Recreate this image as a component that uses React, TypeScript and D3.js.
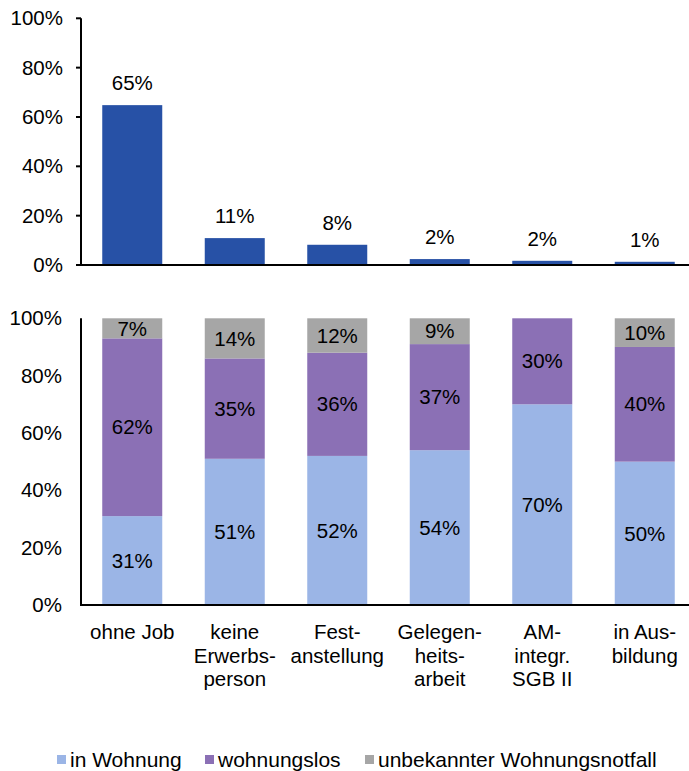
import React, { useRef, useEffect } from 'react';
import * as d3 from 'd3';

// categories (x-axis labels, split into lines)
const categories = ['ohne Job', 'keine Erwerbsperson', 'Festanstellung', 'Gelegenheitsarbeit', 'AM-integr. SGB II', 'in Ausbildung'];
const categoryLines = [
  ['ohne Job'],
  ['keine', 'Erwerbs-', 'person'],
  ['Fest-', 'anstellung'],
  ['Gelegen-', 'heits-', 'arbeit'],
  ['AM-', 'integr.', 'SGB II'],
  ['in Aus-', 'bildung'],
];

// top chart: share of each group
const shareValues = [64.8, 10.9, 8.2, 2.4, 1.7, 1.3];
const shareLabels = ['65%', '11%', '8%', '2%', '2%', '1%'];

// bottom chart: stacked shares
const seriesNames = ['in Wohnung', 'wohnungslos', 'unbekannter Wohnungsnotfall'];
const inWohnung = [31, 51, 52, 54, 70, 50];
const wohnungslos = [62, 35, 36, 37, 30, 40];
const unbekannt = [7, 14, 12, 9, 0, 10];

const yTicks = [0, 20, 40, 60, 80, 100];

const colors = ['#9BB5E6', '#8B70B5', '#A6A6A6'];
const topColor = '#2751A6';

const App = () => {
  const ref = useRef(null);

  useEffect(() => {
    if (!ref.current) return;
    const width = 689;
    const height = 771;
    const left = 81;
    const font = '"Liberation Sans", Arial, sans-serif';

    d3.select(ref.current).selectAll('*').remove();
    const svg = d3.select(ref.current)
      .attr('width', width)
      .attr('height', height)
      .style('font-family', font)
      .style('font-size', '20.5px');

    const x = d3.scaleBand()
      .domain(categories)
      .range([left, left + 6 * 102.5])
      .paddingInner(0.4146)
      .paddingOuter(0.2073);

    // ---------- top chart ----------
    const yTop = d3.scaleLinear().domain([0, 100]).range([265, 18.3]);

    svg.append('g')
      .selectAll('rect')
      .data(shareValues)
      .enter()
      .append('rect')
      .attr('x', (d, i) => x(categories[i]))
      .attr('width', x.bandwidth())
      .attr('y', d => yTop(d))
      .attr('height', d => yTop(0) - yTop(d))
      .attr('fill', topColor);

    svg.append('g')
      .selectAll('text')
      .data(shareValues)
      .enter()
      .append('text')
      .attr('x', (d, i) => x(categories[i]) + x.bandwidth() / 2)
      .attr('y', d => yTop(d) - 15)
      .attr('text-anchor', 'middle')
      .text((d, i) => shareLabels[i]);

    // y axis
    const topAxis = svg.append('g');
    topAxis.append('line')
      .attr('x1', left).attr('x2', left)
      .attr('y1', yTop(100)).attr('y2', yTop(0))
      .attr('stroke', '#000').attr('stroke-width', 2);
    topAxis.selectAll('.tick')
      .data(yTicks)
      .enter()
      .append('line')
      .attr('x1', left - 5).attr('x2', left)
      .attr('y1', d => yTop(d)).attr('y2', d => yTop(d))
      .attr('stroke', '#000').attr('stroke-width', 2);
    topAxis.selectAll('text')
      .data(yTicks)
      .enter()
      .append('text')
      .attr('x', 63)
      .attr('y', d => yTop(d))
      .attr('dy', '0.35em')
      .attr('text-anchor', 'end')
      .text(d => d + '%');
    topAxis.append('line')
      .attr('x1', left - 1).attr('x2', width)
      .attr('y1', yTop(0)).attr('y2', yTop(0))
      .attr('stroke', '#000').attr('stroke-width', 2);

    // ---------- bottom chart ----------
    const yBot = d3.scaleLinear().domain([0, 100]).range([605, 318.3]);

    const rows = categories.map((c, i) => ({
      cat: c,
      a: inWohnung[i],
      b: wohnungslos[i],
      c: unbekannt[i],
    }));
    const stack = d3.stack().keys(['a', 'b', 'c']);
    const layers = stack(rows);

    const layerG = svg.append('g')
      .selectAll('g')
      .data(layers)
      .enter()
      .append('g')
      .attr('fill', (d, i) => colors[i]);

    layerG.selectAll('rect')
      .data(d => d)
      .enter()
      .append('rect')
      .attr('x', d => x(d.data.cat))
      .attr('width', x.bandwidth())
      .attr('y', d => yBot(d[1]))
      .attr('height', d => yBot(d[0]) - yBot(d[1]));

    layerG.selectAll('text')
      .data(d => d.filter(p => p[1] - p[0] > 0))
      .enter()
      .append('text')
      .attr('fill', '#000')
      .attr('x', d => x(d.data.cat) + x.bandwidth() / 2)
      .attr('y', d => (yBot(d[0]) + yBot(d[1])) / 2)
      .attr('dy', '0.35em')
      .attr('text-anchor', 'middle')
      .text(d => Math.round(d[1] - d[0]) + '%');

    const botAxis = svg.append('g');
    botAxis.append('line')
      .attr('x1', left).attr('x2', left)
      .attr('y1', yBot(100)).attr('y2', yBot(0))
      .attr('stroke', '#000').attr('stroke-width', 2);
    botAxis.selectAll('text')
      .data(yTicks)
      .enter()
      .append('text')
      .attr('x', 62)
      .attr('y', d => yBot(d))
      .attr('dy', '0.35em')
      .attr('text-anchor', 'end')
      .text(d => d + '%');
    botAxis.append('line')
      .attr('x1', left - 1).attr('x2', width)
      .attr('y1', yBot(0)).attr('y2', yBot(0))
      .attr('stroke', '#000').attr('stroke-width', 2);

    // category labels
    const catG = svg.append('g')
      .selectAll('text')
      .data(categoryLines)
      .enter()
      .append('text')
      .attr('text-anchor', 'middle')
      .attr('transform', (d, i) => `translate(${x(categories[i]) + x.bandwidth() / 2},639)`);
    catG.selectAll('tspan')
      .data(d => d)
      .enter()
      .append('tspan')
      .attr('x', 0)
      .attr('y', (d, j) => j * 23.5)
      .text(d => d);

    // legend
    const legendX = [57, 205, 365];
    const legend = svg.append('g')
      .selectAll('g')
      .data(seriesNames)
      .enter()
      .append('g')
      .attr('transform', (d, i) => `translate(${legendX[i]},755)`);
    legend.append('rect')
      .attr('width', 9)
      .attr('height', 9)
      .attr('fill', (d, i) => colors[i]);
    legend.append('text')
      .attr('x', 13)
      .attr('y', 12)
      .style('font-size', '21px')
      .text(d => d);
  }, []);

  return (
    <svg
      ref={ref}
      style={{ position: 'absolute', left: 0, top: 0, display: 'block' }}
    />
  );
};

export default App;
